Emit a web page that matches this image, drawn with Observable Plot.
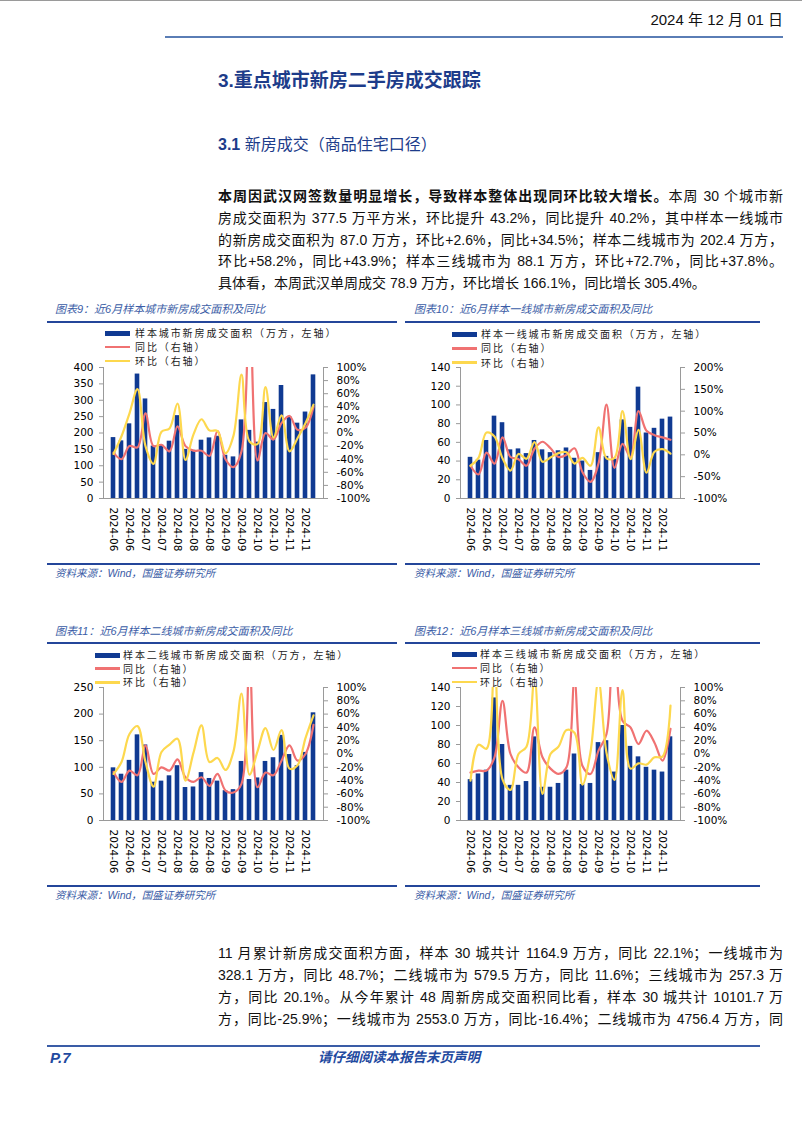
<!DOCTYPE html>
<html><head><meta charset="utf-8">
<script src="https://cdn.jsdelivr.net/npm/d3@7"></script>
<script src="https://cdn.jsdelivr.net/npm/@observablehq/plot@0.6"></script>
<style>
html,body{margin:0;padding:0;background:#fff;}
body{width:802px;height:1132px;position:relative;overflow:hidden;font-family:"Liberation Sans","Noto Sans CJK SC",sans-serif;color:#111;}
.abs{position:absolute;white-space:nowrap;}
.line{position:absolute;height:0;}
.para{position:absolute;left:218px;width:565px;font-size:14px;color:#111;}
.para div{height:21.8px;line-height:21.8px;text-align:justify;text-align-last:justify;white-space:nowrap;}
.para div.last{text-align-last:left;}
.ctitle{position:absolute;font-size:11px;line-height:14px;font-style:italic;color:#3a5ca6;white-space:nowrap;}
.csrc{position:absolute;font-size:10.5px;line-height:14px;font-style:italic;color:#3a5ca6;white-space:nowrap;}
.legend{position:absolute;font-family:"Noto Sans CJK SC",sans-serif;font-size:10px;letter-spacing:1.9px;color:#222;}
.legend .row{position:absolute;left:0;height:12px;line-height:12px;white-space:nowrap;}
.legend .sw{position:absolute;left:0;}
.legend .tx{position:absolute;line-height:12px;}
.chart{position:absolute;}
</style></head>
<body>
<div class="line" style="left:0;top:0;width:802px;border-top:1px solid #9a9a9a;"></div>
<div class="abs" style="right:19px;top:11px;font-size:15px;line-height:18px;color:#111;">2024 年 12 月 01 日</div>
<div class="line" style="left:165px;top:36px;width:618px;border-top:2px solid #5a7db5;"></div>
<div class="abs" style="left:218px;top:68px;font-size:19px;line-height:26px;font-weight:bold;color:#1d3c8a;">3.重点城市新房二手房成交跟踪</div>
<div class="abs" style="left:218px;top:135px;font-size:16px;line-height:20px;color:#1d3c8a;"><b>3.1</b> 新房成交（商品住宅口径）</div>

<div class="para" style="top:186px;">
<div><b>本周因武汉网签数量明显增长，导致样本整体出现同环比较大增长。</b>本周 30 个城市新</div>
<div>房成交面积为 377.5 万平方米，环比提升 43.2%，同比提升 40.2%，其中样本一线城市</div>
<div>的新房成交面积为 87.0 万方，环比+2.6%，同比+34.5%；样本二线城市为 202.4 万方，</div>
<div>环比+58.2%，同比+43.9%；样本三线城市为 88.1 万方，环比+72.7%，同比+37.8%。</div>
<div class="last">具体看，本周武汉单周成交 78.9 万方，环比增长 166.1%，同比增长 305.4%。</div>
</div>

<div id="charts"></div>

<div class="para" style="top:942px;">
<div style="height:22px;line-height:22px;">11 月累计新房成交面积方面，样本 30 城共计 1164.9 万方，同比 22.1%；一线城市为</div>
<div style="height:22px;line-height:22px;">328.1 万方，同比 48.7%；二线城市为 579.5 万方，同比 11.6%；三线城市为 257.3 万</div>
<div style="height:22px;line-height:22px;">方，同比 20.1%。从今年累计 48 周新房成交面积同比看，样本 30 城共计 10101.7 万</div>
<div style="height:22px;line-height:22px;">方，同比-25.9%；一线城市为 2553.0 万方，同比-16.4%；二线城市为 4756.4 万方，同</div>
</div>

<div class="line" style="left:47px;top:1045px;width:713px;border-top:2px solid #3a5ca6;"></div>
<div class="abs" style="left:50px;top:1049px;font-size:15px;line-height:18px;font-weight:bold;font-style:italic;color:#1f4aa0;">P.7</div>
<div class="abs" style="left:318px;top:1049px;font-size:13.5px;line-height:18px;font-weight:bold;font-style:italic;color:#1f4aa0;">请仔细阅读本报告末页声明</div>

<script>
// ---- categories (weekly, week-ending dates) ----
const weeks = ["2024-06-07","2024-06-14","2024-06-21","2024-06-28","2024-07-05","2024-07-12","2024-07-19","2024-07-26","2024-08-02","2024-08-09","2024-08-16","2024-08-23","2024-08-30","2024-09-06","2024-09-13","2024-09-20","2024-09-27","2024-10-04","2024-10-11","2024-10-18","2024-10-25","2024-11-01","2024-11-08","2024-11-15","2024-11-22","2024-11-29"];
const xTicks = ["2024-06-07","2024-06-21","2024-07-05","2024-07-19","2024-08-02","2024-08-16","2024-08-30","2024-09-13","2024-09-27","2024-10-11","2024-10-25","2024-11-08","2024-11-22"];

// ---- chart 9: sample 30 cities ----
const allArea = [186,176,228,380,304,160,163,175,253,150,147,178,185,190,132,127,240,208,172,293,272,345,250,230,264,377.5];
const allYoY  = [-30,-40,-20,-22,30,-20,-18,-28,10,-20,-27,-27,-35,3,-40,-52,-28,200,-42,0,-10,15,26,5,8,40.2];
const allWoW  = [-32,-5,30,67,-20,-47,2,7,45,-41,-2,21,4,3,-31,-4,89,-13,-17,70,-7,27,-28,-8,15,43.2];
// ---- chart 10: tier-1 ----
const t1Area = [44,41,62,88,81,52,53,48,62,52,49,51,54,43,40,30,49,45,42,84,76,119,70,75,84.8,87.0];
const t1YoY  = [-25,-45,5,-20,40,-5,-10,-25,14,30,15,-5,0,15,-40,-62,-20,115,-30,25,-5,100,55,45,40,34.5];
const t1WoW  = [-25,-7,51,42,-8,-36,2,-9,29,-16,-6,4,6,-20,-7,-25,63,-8,-7,100,-10,57,-41,7,13,2.6];
// ---- chart 11: tier-2 ----
const t2Area = [99,87,113,161,142,72,74,84,103,62,63,90,79,74,56,58,111,77,80,111,118,160,124,103,128,202.4];
const t2YoY  = [-27,-42,-25,-32,13,-30,-20,-25,-8,-35,-42,-35,-48,-30,-55,-58,-45,140,-50,-28,-32,-10,13,-10,0,43.9];
const t2WoW  = [-30,-12,30,42,-12,-49,3,14,23,-40,2,43,-12,-6,-24,4,91,-31,4,39,6,36,-22,-17,24,58.2];
// ---- chart 12: tier-3 ----
const t3Area = [43,49,53,129,80,37,37,41,88,35,35,39,53,70,38,39,82,84,51,100,78,67,56,53,51,88.1];
const t3YoY  = [-28,-25,-25,-5,80,0,-20,-28,40,-5,-22,-30,-20,110,-18,-30,5,30,350,50,40,15,35,17,-10,37.8];
const t3WoW  = [-40,14,8,143,-38,-54,0,11,115,-60,0,11,36,32,-46,3,110,2,-39,96,-22,-14,-16,-5,-4,72.7];

// ---- axis ticks ----
const leftTicks9  = [0,50,100,150,200,250,300,350,400];
const leftTicks10 = [0,20,40,60,80,100,120,140];
const leftTicks11 = [0,50,100,150,200,250];
const leftTicks12 = [0,20,40,60,80,100,120,140];
const pctTicks100 = [-100,-80,-60,-40,-20,0,20,40,60,80,100];
const pctTicks200 = [-100,-50,0,50,100,150,200];

// ---- texts ----
const chartTitles = ["图表9：近6月样本城市新房成交面积及同比","图表10：近6月样本一线城市新房成交面积及同比","图表11：近6月样本二线城市新房成交面积及同比","图表12：近6月样本三线城市新房成交面积及同比"];
const barNames = ["样本城市新房成交面积（万方，左轴）","样本一线城市新房成交面积（万方，左轴）","样本二线城市新房成交面积（万方，左轴）","样本三线城市新房成交面积（万方，左轴）"];
const yoyName = "同比（右轴）", wowName = "环比（右轴）";
const sourceText = "资料来源：Wind，国盛证券研究所";

const NAVY = "#103a92", RED = "#f07272", YELLOW = "#fdd84e", AXIS = "#9a9a9a";

const charts = [
  {area: allArea, yoy: allYoY, wow: allWoW, yMax: 400, left: leftTicks9, pMin: -100, pMax: 100, right: pctTicks100,
   g: {x: 50, y: 357, ml: 53, mr: 50, mt: 10, mb: 55, h: 196}, t: {x: 55, y: 302, lx: 47, lw: 350, ly: 321},
   lg: {x: 105, tx: 30, rows: [333, 347, 361]}, s: {ly: 563, ty: 566}},
  {area: t1Area, yoy: t1YoY, wow: t1WoW, yMax: 140, left: leftTicks10, pMin: -100, pMax: 200, right: pctTicks200,
   g: {x: 410, y: 357, ml: 50, mr: 50, mt: 10, mb: 55, h: 196}, t: {x: 414, y: 302, lx: 405, lw: 355, ly: 321},
   lg: {x: 452, tx: 29, rows: [334, 348.3, 362.7]}, s: {ly: 563, ty: 566}},
  {area: t2Area, yoy: t2YoY, wow: t2WoW, yMax: 250, left: leftTicks11, pMin: -100, pMax: 100, right: pctTicks100,
   g: {x: 50, y: 677, ml: 53, mr: 50, mt: 10, mb: 55, h: 198}, t: {x: 55, y: 624, lx: 47, lw: 350, ly: 642},
   lg: {x: 95, tx: 28, rows: [655, 668.7, 682.4]}, s: {ly: 885, ty: 888}},
  {area: t3Area, yoy: t3YoY, wow: t3WoW, yMax: 140, left: leftTicks12, pMin: -100, pMax: 100, right: pctTicks100,
   g: {x: 410, y: 677, ml: 50, mr: 50, mt: 10, mb: 55, h: 198}, t: {x: 414, y: 624, lx: 405, lw: 355, ly: 642},
   lg: {x: 452, tx: 28, rows: [654, 668, 682]}, s: {ly: 885, ty: 888}}
];

const host = document.getElementById("charts");
charts.forEach((c, k) => {
  const tt = document.createElement("div"); tt.className = "ctitle";
  tt.style.left = c.t.x + "px"; tt.style.top = c.t.y + "px"; tt.textContent = chartTitles[k]; host.appendChild(tt);
  const ul = document.createElement("div"); ul.className = "line";
  ul.style.cssText = `left:${c.t.lx}px;top:${c.t.ly}px;width:${c.t.lw}px;border-top:2px solid #24469a;`; host.appendChild(ul);
  const sl = document.createElement("div"); sl.className = "line";
  sl.style.cssText = `left:${c.t.lx}px;top:${c.s.ly}px;width:${c.t.lw}px;border-top:2px solid #24469a;`; host.appendChild(sl);
  const st = document.createElement("div"); st.className = "csrc";
  st.style.left = c.t.x + "px"; st.style.top = c.s.ty + "px"; st.textContent = sourceText; host.appendChild(st);
  const lg = document.createElement("div"); lg.className = "legend";
  lg.style.left = c.lg.x + "px"; lg.style.top = "0px";
  const items = [[barNames[k], NAVY, 5], [yoyName, RED, 2.5], [wowName, YELLOW, 2.5]];
  items.forEach(([name, col, hgt], i) => {
    const row = document.createElement("div"); row.className = "row";
    row.style.top = (c.lg.rows[i] - 6) + "px";
    row.innerHTML = `<span class="sw" style="top:${6 - hgt/2}px;width:25px;height:${hgt}px;background:${col};"></span><span class="tx" style="left:${c.lg.tx}px;">${name}</span>`;
    lg.appendChild(row);
  });
  host.appendChild(lg);

  const toY = p => (p - c.pMin) / (c.pMax - c.pMin) * c.yMax;
  const fromY = v => Math.round(c.pMin + v / c.yMax * (c.pMax - c.pMin));
  const bars = weeks.map((w, i) => ({w, v: c.area[i]}));
  const yoyD = weeks.map((w, i) => ({w, v: toY(c.yoy[i])}));
  const wowD = weeks.map((w, i) => ({w, v: toY(c.wow[i])}));
  const W = c.g.ml + 220 + c.g.mr;
  const svg = Plot.plot({
    width: W, height: c.g.h,
    marginLeft: c.g.ml, marginRight: c.g.mr, marginTop: c.g.mt, marginBottom: c.g.mb,
    style: {fontFamily: "'DejaVu Sans', sans-serif", fontSize: "10.5px", color: "#000", background: "transparent", overflow: "visible"},
    x: {type: "band", domain: weeks, padding: 0, axis: null, label: null},
    y: {domain: [0, c.yMax], axis: null, label: null},
    marks: [
      Plot.barY(bars, {x: "w", y: "v", fill: NAVY, insetLeft: 1.7, insetRight: 1.7}),
      Plot.line(yoyD, {x: "w", y: "v", stroke: RED, strokeWidth: 2.2, curve: "catmull-rom", clip: true}),
      Plot.line(wowD, {x: "w", y: "v", stroke: YELLOW, strokeWidth: 2.2, curve: "catmull-rom", clip: true}),
      Plot.ruleY([0], {stroke: AXIS}),
      Plot.frame({anchor: "left", stroke: AXIS}),
      Plot.frame({anchor: "right", stroke: AXIS}),
      Plot.axisY(c.left, {anchor: "left", label: null, tickSize: 4, tickPadding: 6, stroke: AXIS, fill: "#000"}),
      Plot.axisY(c.right.map(toY), {anchor: "right", label: null, tickSize: 4, tickPadding: 9, stroke: AXIS, fill: "#000", tickFormat: d => fromY(d) + "%"}),
      Plot.axisX(xTicks, {anchor: "bottom", label: null, tickRotate: 90, tickSize: 0, tickPadding: 9, fill: "#000", tickFormat: d => d.slice(0, 7)})
    ]
  });
  const wrap = document.createElement("div"); wrap.className = "chart";
  wrap.style.left = c.g.x + "px"; wrap.style.top = c.g.y + "px";
  wrap.appendChild(svg);
  host.appendChild(wrap);
});
</script>
</body></html>
